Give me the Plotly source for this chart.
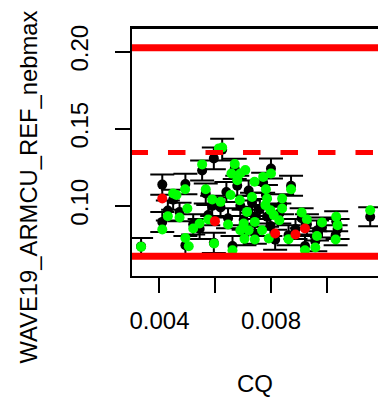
import plotly.graph_objects as go

# ---- data ----
green_x = [0.00334, 0.00410, 0.00430, 0.00472, 0.00449, 0.00461, 0.00492, 0.00500, 0.00493, 0.00505,
           0.00521, 0.00544, 0.00553, 0.00566, 0.00575, 0.00596, 0.00589, 0.00619, 0.00613, 0.00625,
           0.00655, 0.00646, 0.00662, 0.00670, 0.00658, 0.00679, 0.00690, 0.00708, 0.00688, 0.00714,
           0.00702, 0.00690, 0.00705, 0.00732, 0.00741, 0.00742, 0.00742, 0.00720, 0.00772, 0.00800,
           0.00782, 0.00786, 0.00780, 0.00798, 0.00810, 0.00830, 0.00840, 0.00840, 0.00768, 0.00792,
           0.00863, 0.00872, 0.00910, 0.00929, 0.00965, 0.00959, 0.00922, 0.00983, 0.01034, 0.01039,
           0.01032, 0.01156]
green_y = [0.0734, 0.0847, 0.0933, 0.0925, 0.1081, 0.1070, 0.1108, 0.0983, 0.0792, 0.0738,
           0.0853, 0.0886, 0.1269, 0.1108, 0.0912, 0.0756, 0.1042, 0.1026, 0.1373, 0.1379,
           0.1070, 0.0879, 0.0712, 0.1271, 0.1210, 0.1167, 0.1210, 0.1232, 0.1037, 0.0961,
           0.0886, 0.0842, 0.0786, 0.1058, 0.1156, 0.0896, 0.0782, 0.0842, 0.1188, 0.1210,
           0.1108, 0.1048, 0.1005, 0.0972, 0.0940, 0.0907, 0.1048, 0.0983, 0.0842, 0.0788,
           0.0784, 0.1108, 0.0957, 0.0912, 0.0805, 0.0730, 0.0712, 0.0892, 0.0929, 0.0875,
           0.0782, 0.0972]

red_x = [0.00410, 0.00599, 0.00815, 0.00888, 0.00922]
red_y = [0.1048, 0.0901, 0.0821, 0.0814, 0.0853]

black_x = [0.00334, 0.00410, 0.00410, 0.00493, 0.00493, 0.00449, 0.00430, 0.00472, 0.00521, 0.00544,
           0.00553, 0.00595, 0.00566, 0.00575, 0.00595, 0.00589, 0.00619, 0.00640, 0.00646, 0.00662,
           0.00670, 0.00679, 0.00690, 0.00702, 0.00705, 0.00720, 0.00732, 0.00742, 0.00742, 0.00760,
           0.00772, 0.00782, 0.00800, 0.00786, 0.00798, 0.00815, 0.00830, 0.00840, 0.00863, 0.00872,
           0.00888, 0.00910, 0.00929, 0.00922, 0.00959, 0.00965, 0.00983, 0.01034, 0.01039, 0.01032,
           0.01156, 0.00625]
black_y = [0.0737, 0.1138, 0.0896, 0.1142, 0.0745, 0.1040, 0.0970, 0.0960, 0.0880, 0.0850,
           0.1230, 0.1308, 0.1080, 0.0940, 0.0760, 0.1000, 0.0990, 0.1090, 0.0920, 0.0740,
           0.1240, 0.1130, 0.1000, 0.0910, 0.0810, 0.1100, 0.1020, 0.0930, 0.0820, 0.0980,
           0.1150, 0.1070, 0.1243, 0.0930, 0.0870, 0.0780, 0.0950, 0.1010, 0.0810, 0.1130,
           0.0850, 0.0920, 0.0880, 0.0740, 0.0770, 0.0840, 0.0860, 0.0900, 0.0850, 0.0810,
           0.0929, 0.1365]
black_err = [0.0055, 0.0066, 0.0065, 0.0066, 0.0060, 0.0065, 0.0065, 0.0060, 0.0065, 0.0065,
             0.0065, 0.0070, 0.0065, 0.0065, 0.0065, 0.0065, 0.0065, 0.0065, 0.0065, 0.0065,
             0.0065, 0.0065, 0.0065, 0.0065, 0.0065, 0.0065, 0.0065, 0.0065, 0.0065, 0.0065,
             0.0065, 0.0065, 0.0065, 0.0065, 0.0065, 0.0065, 0.0065, 0.0065, 0.0065, 0.0065,
             0.0065, 0.0065, 0.0065, 0.0065, 0.0065, 0.0065, 0.0065, 0.0065, 0.0065, 0.0065,
             0.0062, 0.0070]

limit_solid = [0.2026, 0.0673]
limit_dashed = [0.1347]

x_ticks = [0.004, 0.006, 0.008, 0.010]
x_ticktext = ["0.004", "", "0.008", ""]
y_ticks = [0.10, 0.15, 0.20]
y_ticktext = ["0.10", "0.15", "0.20"]

x_range = [0.003014, 0.01184]
y_range = [0.0545, 0.2154]
x_line_span = [0.00296, 0.0125]

FONT = "Liberation Sans, Arial, sans-serif"

fig = go.Figure()

fig.add_trace(go.Scatter(
    x=black_x, y=black_y, mode="markers",
    marker=dict(color="black", size=10),
    error_y=dict(type="data", array=black_err, color="black", thickness=2, width=12),
    showlegend=False, hoverinfo="skip"))

fig.add_trace(go.Scatter(
    x=green_x, y=green_y, mode="markers",
    marker=dict(color="#00ff00", size=10),
    showlegend=False, hoverinfo="skip"))

fig.add_trace(go.Scatter(
    x=red_x, y=red_y, mode="markers",
    marker=dict(color="#ff0000", size=10),
    showlegend=False, hoverinfo="skip"))

for v in limit_solid:
    fig.add_trace(go.Scatter(
        x=x_line_span, y=[v, v], mode="lines",
        line=dict(color="#ff0000", width=7),
        showlegend=False, hoverinfo="skip"))
for v in limit_dashed:
    fig.add_trace(go.Scatter(
        x=x_line_span, y=[v, v], mode="lines",
        line=dict(color="#ff0000", width=5, dash="17.5px,20px"),
        showlegend=False, hoverinfo="skip"))

L, R, T, B = 131.5, 378.0, 28.0, 275.7
W, H = 378, 404

fig.update_layout(
    width=W, height=H,
    margin=dict(l=L, r=W - R, t=T, b=H - B, pad=0),
    paper_bgcolor="white", plot_bgcolor="white",
    font=dict(family=FONT, size=24, color="black"),
    xaxis=dict(range=x_range, tickvals=x_ticks, ticktext=x_ticktext,
               showgrid=False, zeroline=False, showline=True, mirror=True,
               linecolor="black", linewidth=2, ticks="outside", ticklen=15,
               tickwidth=2, tickcolor="black", ticklabelstandoff=7,
               tickfont=dict(size=24)),
    yaxis=dict(range=y_range, tickvals=y_ticks, ticktext=y_ticktext,
               showgrid=False, zeroline=False, showline=True, mirror=False,
               linecolor="black", linewidth=2, ticks="outside", ticklen=15,
               tickwidth=2, tickcolor="black", tickangle=-90, ticklabelstandoff=17,
               tickfont=dict(size=24)),
)

# top frame line (box is open on the clipped right side)
fig.add_shape(type="line", xref="paper", yref="paper", x0=-0.004, x1=1.0, y0=1, y1=1,
              line=dict(color="black", width=2), layer="above")

pw, ph = R - L, B - T
fig.add_annotation(text="CQ", xref="paper", yref="paper",
                   x=(255 - L) / pw, y=(B - 383) / ph, xanchor="center", yanchor="middle",
                   showarrow=False, font=dict(size=24, family=FONT))
fig.add_annotation(text="WAVE19_ARMCU_REF_nebmax", xref="paper", yref="paper",
                   x=(28 - L) / pw, y=(B - 365) / ph, xanchor="center", yanchor="bottom",
                   textangle=-90, showarrow=False, font=dict(size=23.8, family=FONT))

fig.write_html("out.html", config={"displayModeBar": False},
               post_script="document.body.style.margin='0';document.body.style.padding='0';document.body.style.overflow='hidden';")
